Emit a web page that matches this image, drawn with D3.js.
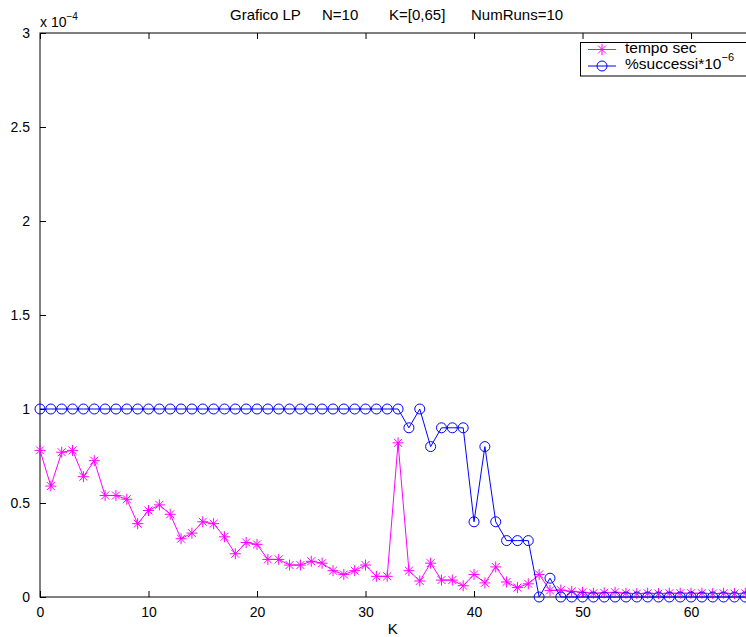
<!DOCTYPE html>
<html>
<head>
<meta charset="utf-8">
<script src="https://cdn.jsdelivr.net/npm/d3@7"></script>
<style>
body { margin: 0; background: #fff; }
svg text { font-family: "Liberation Sans", Arial, sans-serif; fill: #000; }
</style>
</head>
<body>
<div id="chart"></div>
<script>
// values in units of 1e-4 (axis multiplier "x 10^-4")
var kValues = d3.range(0, 66);
var tempoSec = [0.78, 0.59, 0.77, 0.78, 0.64, 0.725, 0.54, 0.54, 0.52, 0.39,
  0.46, 0.49, 0.44, 0.31, 0.34, 0.40, 0.39, 0.32, 0.23, 0.29,
  0.28, 0.20, 0.20, 0.17, 0.17, 0.19, 0.18, 0.14, 0.12, 0.14,
  0.17, 0.11, 0.11, 0.82, 0.14, 0.085, 0.18, 0.09, 0.09, 0.06,
  0.12, 0.075, 0.16, 0.08, 0.05, 0.07, 0.12, 0.035, 0.037, 0.03,
  0.025, 0.02, 0.022, 0.025, 0.02, 0.018, 0.02, 0.018, 0.02, 0.02,
  0.02, 0.02, 0.018, 0.02, 0.018, 0.02];
var successi = [1, 1, 1, 1, 1, 1, 1, 1, 1, 1,
  1, 1, 1, 1, 1, 1, 1, 1, 1, 1,
  1, 1, 1, 1, 1, 1, 1, 1, 1, 1,
  1, 1, 1, 1, 0.9, 1, 0.8, 0.9, 0.9, 0.9,
  0.4, 0.8, 0.4, 0.3, 0.3, 0.3, 0, 0.1, 0, 0,
  0, 0, 0, 0, 0, 0, 0, 0, 0, 0,
  0, 0, 0, 0, 0, 0];
var xTicks = [0, 10, 20, 30, 40, 50, 60];
var yTicks = [0, 0.5, 1, 1.5, 2, 2.5, 3];
var legendLabels = ["tempo sec", "%successi*10"];
var titleParts = ["Grafico LP", "N=10", "K=[0,65]", "NumRuns=10"];

var width = 746, height = 637;
var margin = {left: 40, top: 33, bottom: 40};

var svg = d3.select("#chart").append("svg")
  .attr("width", width)
  .attr("height", height);

var x = d3.scaleLinear().domain([0, 65]).range([margin.left, 745.3]);
var y = d3.scaleLinear().domain([0, 3]).range([height - margin.bottom, margin.top]);

// axes box
svg.append("rect")
  .attr("x", x(0)).attr("y", y(3))
  .attr("width", x(65) - x(0) + 2).attr("height", y(0) - y(3))
  .attr("fill", "white").attr("stroke", "black").attr("stroke-width", 1);

var xAxis = d3.axisBottom(x).tickValues(xTicks).tickSizeInner(-6).tickSizeOuter(0).tickPadding(10);
var gx = svg.append("g").attr("transform", "translate(0," + y(0) + ")").call(xAxis);
var xTop = d3.axisTop(x).tickValues(xTicks).tickSizeInner(-6).tickSizeOuter(0).tickFormat("");
var gxt = svg.append("g").attr("transform", "translate(0," + y(3) + ")").call(xTop);
var yAxis = d3.axisLeft(y).tickValues(yTicks).tickSizeInner(-6).tickSizeOuter(0).tickPadding(10)
  .tickFormat(function(d) { return d; });
var gy = svg.append("g").attr("transform", "translate(" + x(0) + ",0)").call(yAxis);

[gx, gxt, gy].forEach(function(g) {
  g.select(".domain").remove();
  g.selectAll("line").attr("stroke", "black");
  g.selectAll("text").style("font-size", "14px").attr("font-family", null);
});

svg.append("text")
  .attr("x", 40).attr("y", 27)
  .style("font-size", "14px")
  .html('x 10<tspan dy="-7" style="font-size:10px">\u22124</tspan>');

// title, pieces spaced like the original
var titleX = [230, 322, 389, 471];
svg.selectAll(".title").data(titleParts).enter()
  .append("text")
  .attr("class", "title")
  .attr("x", function(d, i) { return titleX[i]; })
  .attr("y", 20)
  .style("font-size", "15px")
  .text(function(d) { return d; });

svg.append("text")
  .attr("x", (x(0) + x(65)) / 2).attr("y", 634)
  .attr("text-anchor", "middle")
  .style("font-size", "15px")
  .text("K");

function starPath(cx, cy, r) {
  var d = r * 0.72;
  return "M" + (cx - r) + "," + cy + "H" + (cx + r) +
    "M" + cx + "," + (cy - r) + "V" + (cy + r) +
    "M" + (cx - d) + "," + (cy - d) + "L" + (cx + d) + "," + (cy + d) +
    "M" + (cx - d) + "," + (cy + d) + "L" + (cx + d) + "," + (cy - d);
}

var plot = svg.append("g");

var line = d3.line()
  .x(function(d, i) { return x(kValues[i]); })
  .y(function(d) { return y(d); });

// tempo sec (magenta stars)
plot.append("path")
  .datum(tempoSec)
  .attr("d", line)
  .attr("fill", "none").attr("stroke", "#ff00ff").attr("stroke-width", 1);
plot.selectAll(".star").data(tempoSec).enter()
  .append("path")
  .attr("class", "star")
  .attr("d", function(d, i) { return starPath(x(kValues[i]), y(d), 5.5); })
  .attr("stroke", "#ff00ff").attr("stroke-width", 1).attr("fill", "none");

// successi (blue circles)
plot.append("path")
  .datum(successi)
  .attr("d", line)
  .attr("fill", "none").attr("stroke", "#0000ff").attr("stroke-width", 1);
plot.selectAll(".circ").data(successi).enter()
  .append("circle")
  .attr("class", "circ")
  .attr("cx", function(d, i) { return x(kValues[i]); })
  .attr("cy", function(d) { return y(d); })
  .attr("r", 5)
  .attr("stroke", "#0000ff").attr("stroke-width", 1).attr("fill", "none");

// legend
var legend = svg.append("g").attr("class", "legend");
legend.append("rect")
  .attr("x", 580.5).attr("y", 42.5)
  .attr("width", 170).attr("height", 33.5)
  .attr("fill", "white").attr("stroke", "black").attr("stroke-width", 1);

var legColors = ["#ff00ff", "#0000ff"];
legendLabels.forEach(function(lbl, i) {
  var ly = 49.5 + i * 16.5;
  legend.append("line")
    .attr("x1", 588).attr("x2", 616).attr("y1", ly).attr("y2", ly)
    .attr("stroke", legColors[i]).attr("stroke-width", 1);
  if (i === 0) {
    legend.append("path").attr("d", starPath(602, ly, 5.5))
      .attr("stroke", legColors[i]).attr("fill", "none");
  } else {
    legend.append("circle").attr("cx", 602).attr("cy", ly).attr("r", 5)
      .attr("stroke", legColors[i]).attr("fill", "none");
  }
  var t = legend.append("text")
    .attr("x", 625).attr("y", ly + 3)
    .style("font-size", "15.5px")
    .text(lbl);
  if (i === 1) {
    t.append("tspan").attr("dy", -8).style("font-size", "11px").text("\u22126");
  }
});
</script>
</body>
</html>
